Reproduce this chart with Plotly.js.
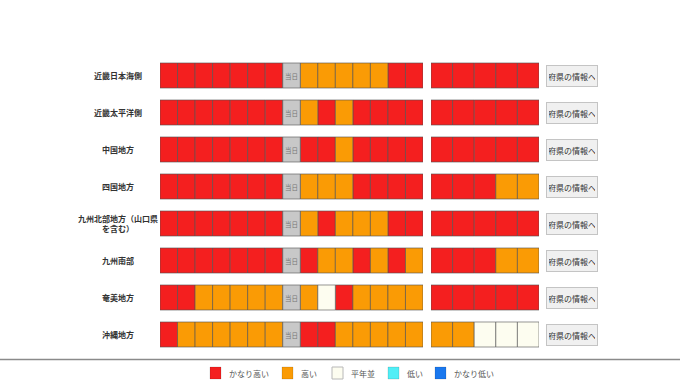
<!DOCTYPE html>
<html>
<head>
<meta charset="utf-8">
<script src="https://cdn.plot.ly/plotly-3.0.1.min.js"></script>
<style>html,body{margin:0;padding:0;background:#fff;}#chart{width:680px;height:382px;}</style>
</head>
<body>
<div id="chart"></div>
<script>
// Regions (rows, top to bottom)
const regions = ['近畿日本海側','近畿太平洋側','中国地方','四国地方','九州北部地方（山口県<br>を含む）','九州南部','奄美地方','沖縄地方'];
// Level codes: 2 = かなり高い, 1 = 高い, 0 = 平年並, -1 = 低い, -2 = かなり低い
const levelNames = ['かなり高い','高い','平年並','低い','かなり低い'];
const levelCodes = [2, 1, 0, -1, -2];
const levelColors = ['#f41f1f','#fa9b05','#fdfdf0','#50eef6','#1a78ee'];
// 7 cells before the day (当日)
const pastCells = [
  [2,2,2,2,2,2,2],
  [2,2,2,2,2,2,2],
  [2,2,2,2,2,2,2],
  [2,2,2,2,2,2,2],
  [2,2,2,2,2,2,2],
  [2,2,2,2,2,2,2],
  [2,2,1,1,1,1,1],
  [2,1,1,1,1,1,1]
];
// 7 cells after the day
const nextCells = [
  [1,1,1,1,1,2,2],
  [1,2,1,2,2,2,2],
  [2,2,1,2,2,2,2],
  [1,1,1,2,2,2,2],
  [1,2,1,1,1,2,2],
  [2,1,1,2,1,2,1],
  [1,0,2,1,1,1,1],
  [2,2,1,1,1,1,1]
];
// second block (5 cells)
const laterCells = [
  [2,2,2,2,2],
  [2,2,2,2,2],
  [2,2,2,2,2],
  [2,2,2,1,1],
  [2,2,2,2,2],
  [2,2,2,1,1],
  [2,2,2,2,2],
  [1,1,0,0,0]
];
const todayLabel = '当日';
const buttonLabel = '府県の情報へ';

const lineStyle = {color: 'rgba(80,80,80,0.6)', width: 1};
const traces = [];
levelCodes.forEach((code, li) => {
  const y1 = [], b1 = [], y2 = [], b2 = [];
  regions.forEach((r, ri) => {
    pastCells[ri].forEach((v, ci) => { if (v === code) { y1.push(r); b1.push(ci); } });
    nextCells[ri].forEach((v, ci) => { if (v === code) { y1.push(r); b1.push(ci + 8); } });
    laterCells[ri].forEach((v, ci) => { if (v === code) { y2.push(r); b2.push(ci); } });
  });
  if (y1.length) traces.push({
    type: 'bar', orientation: 'h', name: levelNames[li],
    y: y1, base: b1, x: y1.map(() => 1),
    width: 0.676, xaxis: 'x', yaxis: 'y',
    marker: {color: levelColors[li], line: lineStyle},
    hoverinfo: 'skip', showlegend: false
  });
  if (y2.length) traces.push({
    type: 'bar', orientation: 'h', name: levelNames[li],
    y: y2, base: b2, x: y2.map(() => 1),
    width: 0.676, xaxis: 'x2', yaxis: 'y',
    marker: {color: levelColors[li], line: lineStyle},
    hoverinfo: 'skip', showlegend: false
  });
});
// today column
traces.push({
  type: 'bar', orientation: 'h', name: todayLabel,
  y: regions, base: regions.map(() => 7), x: regions.map(() => 1),
  width: 0.676, xaxis: 'x', yaxis: 'y',
  marker: {color: '#c8c8c8', line: lineStyle},
  text: regions.map(() => todayLabel), textposition: 'inside', insidetextanchor: 'middle',
  constraintext: 'none', textangle: 0,
  textfont: {size: 6.5, color: '#777'}, hoverinfo: 'skip', showlegend: false
});

const annotations = [];
regions.forEach(r => {
  annotations.push({
    xref: 'paper', yref: 'y', x: 118/680, y: r, text: '<b>' + r + '</b>', showarrow: false,
    xanchor: 'center', yanchor: 'middle', align: 'center',
    font: {size: 8, color: '#333'}
  });
  annotations.push({
    xref: 'paper', yref: 'y', x: 571.5/680, y: r, text: buttonLabel, showarrow: false,
    xanchor: 'center', yanchor: 'middle', width: 46, height: 16,
    bgcolor: '#f0f0f0', bordercolor: '#c4c4c4', borderwidth: 1, borderpad: 2,
    font: {size: 8, color: '#333'}
  });
});

// Legend (drawn below the plot, pixel layout converted to paper coords)
const plotTop = 57, plotH = 296, W = 680;
const py = p => (plotTop + plotH - p) / plotH;
const legendX = [210, 282, 332, 388, 435];
const shapes = [{type: 'line', xref: 'paper', yref: 'paper', x0: 0, x1: 1, y0: py(359.5), y1: py(359.5), line: {color: '#8a8a8a', width: 1.5}}];
levelNames.forEach((n, i) => {
  const x0 = legendX[i];
  shapes.push({type: 'rect', xref: 'paper', yref: 'paper', x0: x0 / W, x1: (x0 + 11) / W, y0: py(379), y1: py(367),
    fillcolor: levelColors[i], line: {color: i === 2 ? '#b8b8b8' : 'rgba(0,0,0,0.12)', width: 1}});
  annotations.push({xref: 'paper', yref: 'paper', x: (x0 + 17) / W, y: py(373), text: n, showarrow: false,
    xanchor: 'left', yanchor: 'middle', font: {size: 8, color: '#555'}});
});

const layout = {
  width: 680, height: 382,
  margin: {l: 0, r: 0, t: plotTop, b: 382 - plotTop - plotH, autoexpand: false},
  paper_bgcolor: '#fff', plot_bgcolor: 'rgba(0,0,0,0)',
  font: {family: '"Noto Sans CJK JP", "Noto Sans", sans-serif', size: 8, color: '#444'},
  barmode: 'overlay', bargap: 0,
  xaxis: {domain: [160/680, 423/680], range: [0, 15], visible: false, fixedrange: true},
  xaxis2: {domain: [431/680, 539/680], range: [0, 5], visible: false, anchor: 'y', fixedrange: true},
  yaxis: {type: 'category', categoryorder: 'array', categoryarray: regions, range: [7.5, -0.5], visible: false, fixedrange: true},
  showlegend: false,
  shapes: shapes,
  annotations: annotations
};
Plotly.newPlot('chart', traces, layout, {displayModeBar: false, staticPlot: true});
</script>
</body>
</html>
